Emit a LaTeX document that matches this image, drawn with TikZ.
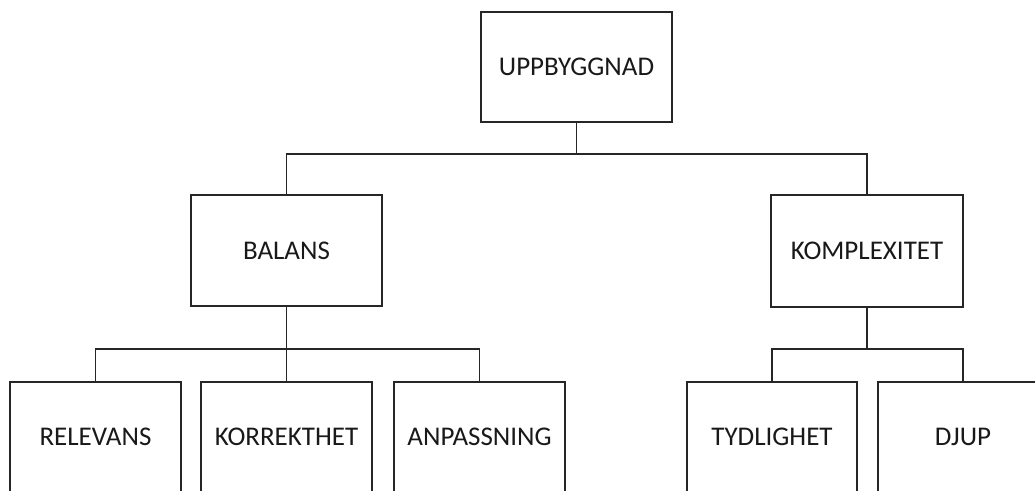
\documentclass[tikz,border=0pt]{standalone}
\usepackage{fontspec}
\setmainfont{Carlito}
\begin{document}
\begin{tikzpicture}[x=1pt,y=-1pt,
  box/.style={draw=black!85,line width=1.2pt,rectangle,inner sep=0pt,
    font=\fontsize{27}{30}\selectfont,text=black!90,
    text height=17.5pt,text depth=0pt},
  conn/.style={draw=black!85,line width=1.2pt}]
\useasboundingbox (0,0) rectangle (1035,490);
\clip (0,0) rectangle (1035,490);
\node[box,minimum width=191pt,minimum height=110pt] (u) at (576.5,67) {UPPBYGGNAD};
\node[box,minimum width=191pt,minimum height=111pt] (b) at (286.5,250.5) {BALANS};
\node[box,minimum width=192pt,minimum height=112pt] (k) at (867,251) {KOMPLEXITET};
\node[box,minimum width=171pt,minimum height=110pt] (r) at (95.5,437) {RELEVANS};
\node[box,minimum width=171pt,minimum height=110pt] (ko) at (286.5,437) {KORREKTHET};
\node[box,minimum width=171pt,minimum height=110pt] (a) at (479.5,437) {ANPASSNING};
\node[box,minimum width=170pt,minimum height=110pt] (t) at (772,437) {TYDLIGHET};
\node[box,minimum width=170pt,minimum height=110pt] (d) at (963,437) {DJUP};
\coordinate (bus1) at (576.5,154);
\coordinate (bus2) at (286.5,349);
\coordinate (bus3) at (867,349);
\draw[conn] (u.south) -- (bus1);
\draw[conn] (b.north) |- (bus1) -| (k.north);
\draw[conn] (b.south) -- (bus2);
\draw[conn] (r.north) |- (bus2) -| (a.north);
\draw[conn] (ko.north) -- (bus2);
\draw[conn] (k.south) -- (bus3);
\draw[conn] (t.north) |- (bus3) -| (d.north);
\end{tikzpicture}
\end{document}
